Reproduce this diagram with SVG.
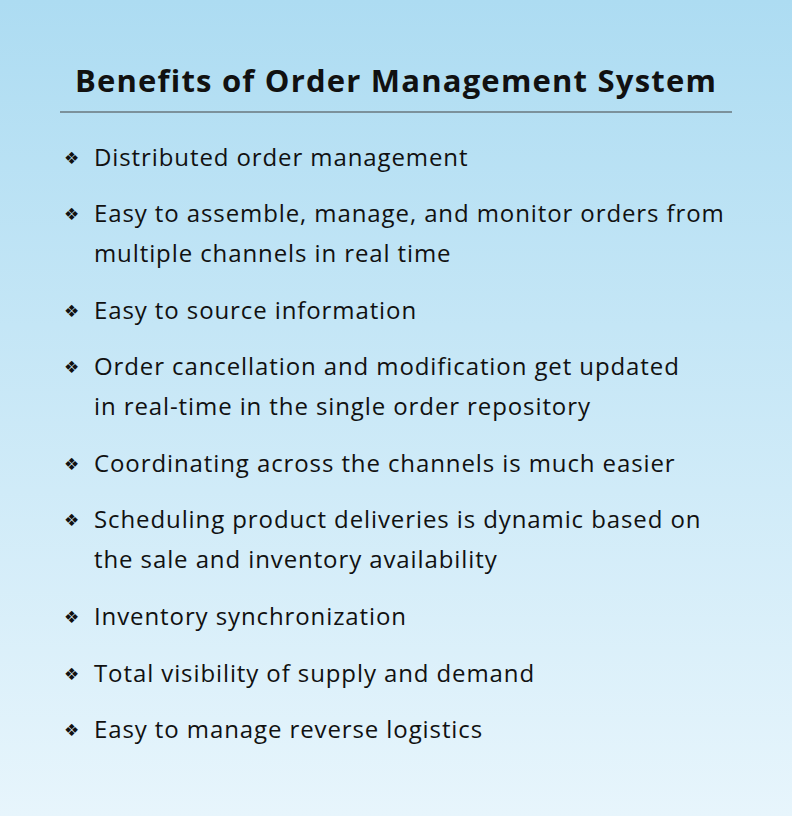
<svg xmlns="http://www.w3.org/2000/svg" width="792" height="816" viewBox="0 0 792 816">
<defs>
<linearGradient id="bg" x1="0" y1="0" x2="0" y2="1">
<stop offset="0" stop-color="#ADDCF2"/>
<stop offset="1" stop-color="#E7F5FC"/>
</linearGradient>
<style>
.t{font-family:"Open Sans","DejaVu Sans",sans-serif;font-size:24px;letter-spacing:0.9px;fill:#111}
.b{font-family:"DejaVu Sans",sans-serif;font-size:17px;fill:#111}
.h{font-family:"Open Sans","DejaVu Sans",sans-serif;font-size:31px;font-weight:bold;letter-spacing:1.2px;fill:#111}
</style>
</defs>
<rect width="792" height="816" fill="url(#bg)"/>
<text class="h" x="396" y="92" text-anchor="middle">Benefits of Order Management System</text>
<line x1="60" y1="112" x2="732" y2="112" stroke="#444" stroke-width="1.2"/>
<g id="items">
<text class="b" x="64" y="164">❖</text><text class="t" x="94" y="166">Distributed order management</text>
<text class="b" x="64" y="220">❖</text><text class="t" x="94" y="222">Easy to assemble, manage, and monitor orders from</text>
<text class="t" x="94" y="262">multiple channels in real time</text>
<text class="b" x="64" y="317">❖</text><text class="t" x="94" y="319">Easy to source information</text>
<text class="b" x="64" y="373">❖</text><text class="t" x="94" y="375">Order cancellation and modification get updated</text>
<text class="t" x="94" y="415">in real-time in the single order repository</text>
<text class="b" x="64" y="470">❖</text><text class="t" x="94" y="472">Coordinating across the channels is much easier</text>
<text class="b" x="64" y="526">❖</text><text class="t" x="94" y="528">Scheduling product deliveries is dynamic based on</text>
<text class="t" x="94" y="568">the sale and inventory availability</text>
<text class="b" x="64" y="623">❖</text><text class="t" x="94" y="625">Inventory synchronization</text>
<text class="b" x="64" y="680">❖</text><text class="t" x="94" y="682">Total visibility of supply and demand</text>
<text class="b" x="64" y="736">❖</text><text class="t" x="94" y="738">Easy to manage reverse logistics</text>
</g>
</svg>
